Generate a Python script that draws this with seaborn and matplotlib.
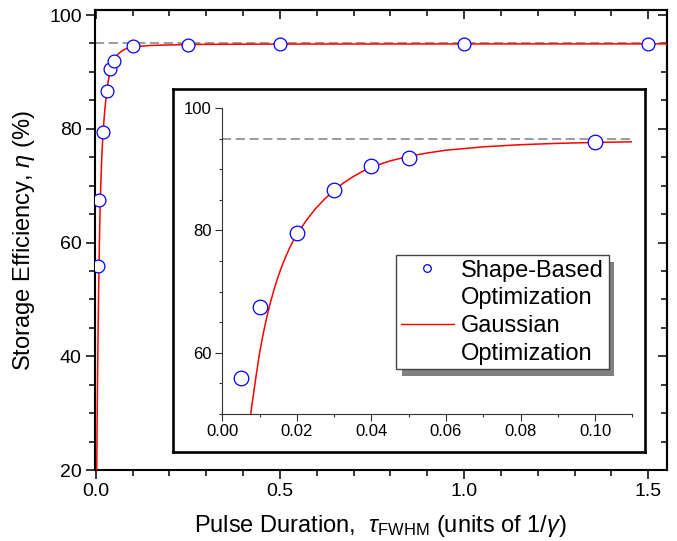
import matplotlib
matplotlib.use("Agg")
import matplotlib.pyplot as plt
import matplotlib.patheffects as pe
from matplotlib.lines import Line2D
from matplotlib.ticker import MultipleLocator, FormatStrFormatter
import seaborn as sns

# ---------------- data ----------------
shape_tau = [0.005, 0.01, 0.02, 0.03, 0.04, 0.05, 0.1, 0.25, 0.5, 1.0, 1.5]
shape_eff = [55.9, 67.4, 79.5, 86.6, 90.5, 91.9, 94.5, 94.8, 94.85, 94.85, 94.85]

gauss_tau = [0.0025, 0.003, 0.004, 0.005, 0.006, 0.007, 0.008, 0.009, 0.010,
             0.011, 0.012, 0.013, 0.014, 0.015, 0.016, 0.017, 0.018, 0.019,
             0.020, 0.0225, 0.025, 0.0275, 0.030, 0.0325, 0.035, 0.0375,
             0.040, 0.045, 0.050, 0.055, 0.060, 0.070, 0.080, 0.090, 0.100,
             0.110, 0.150, 0.200, 0.300, 0.500, 1.000, 1.550]
gauss_eff = [17.0, 22.1, 30.1, 36.6, 42.1, 47.1, 51.7, 56.0, 60.0,
             63.2, 66.0, 68.45, 70.6, 72.5, 74.2, 75.7, 77.05, 78.25,
             79.35, 81.6, 83.55, 85.15, 86.55, 87.75, 88.75, 89.6,
             90.35, 91.35, 92.1, 92.65, 93.1, 93.65, 94.0, 94.22, 94.37,
             94.47, 94.65, 94.75, 94.85, 94.9, 94.92, 94.93]

ref_level = 95.0
legend_labels = ["Shape-Based", "Optimization", "Gaussian", "Optimization"]

main_xlabel = r"Pulse Duration,  $\mathit{\tau}_{\mathrm{FWHM}}$ (units of 1/$\mathit{\gamma}$)"
main_ylabel = r"Storage Efficiency, $\mathit{\eta}$ (%)"

# ---------------- style ----------------
sns.set_theme(style="ticks")
plt.rcParams.update({
    "font.family": ["Liberation Sans", "DejaVu Sans"],
    "mathtext.fontset": "custom",
    "mathtext.rm": "Liberation Sans",
    "mathtext.it": "Liberation Sans:italic",
    "mathtext.bf": "Liberation Sans:bold",
    "axes.edgecolor": "black",
    "xtick.color": "black",
    "ytick.color": "black",
    "text.color": "black",
    "axes.labelcolor": "black",
})

fig = plt.figure(figsize=(6.77, 5.41), dpi=100)

# ---------------- main axes ----------------
ax = fig.add_axes([0.1403, 0.1312, 0.8445, 0.8494])
ax.axhline(ref_level, color="#808080", lw=1.1, dashes=(6, 3), zorder=2)
sns.lineplot(x=gauss_tau, y=gauss_eff, ax=ax, color="red", lw=1.1,
             sort=True, estimator=None, zorder=3)
sns.scatterplot(x=shape_tau, y=shape_eff, ax=ax, s=85, facecolor="white",
                edgecolor="blue", linewidth=0.9, zorder=4)
ax.set_xlim(-0.002, 1.55)
ax.set_ylim(20, 100.8)
ax.xaxis.set_major_locator(MultipleLocator(0.5))
ax.xaxis.set_minor_locator(MultipleLocator(0.1))
ax.yaxis.set_major_locator(MultipleLocator(20))
ax.yaxis.set_minor_locator(MultipleLocator(5))
ax.xaxis.set_major_formatter(FormatStrFormatter("%.1f"))
ax.yaxis.set_major_formatter(FormatStrFormatter("%d"))
ax.tick_params(which="major", direction="out", length=6.5, width=1.1,
               labelsize=14, pad=3)
ax.tick_params(which="minor", direction="out", length=4, width=1.1)
for s in ax.spines.values():
    s.set_linewidth(1.5)
ax.set_xlabel(main_xlabel, fontsize=17)
ax.set_ylabel(main_ylabel, fontsize=17)
ax.xaxis.set_label_coords(0.5, -0.094)
ax.yaxis.set_label_coords(-0.101, 0.5)

secx = ax.secondary_xaxis("top")
secx.xaxis.set_major_locator(MultipleLocator(0.5))
secx.xaxis.set_minor_locator(MultipleLocator(0.1))
secx.tick_params(which="major", direction="in", length=6.5, width=1.1, labeltop=False)
secx.tick_params(which="minor", direction="in", length=4, width=1.1)
secx.spines["top"].set_linewidth(1.5)
secy = ax.secondary_yaxis("right")
secy.yaxis.set_major_locator(MultipleLocator(20))
secy.yaxis.set_minor_locator(MultipleLocator(5))
secy.tick_params(which="major", direction="in", length=6.5, width=1.1, labelright=False)
secy.tick_params(which="minor", direction="in", length=4, width=1.1)
secy.spines["right"].set_linewidth(1.5)

# ---------------- inset frame ----------------
fax = fig.add_axes([0.256, 0.164, 0.6967, 0.671])
fax.set_xticks([])
fax.set_yticks([])
fax.set_facecolor("white")
for s in fax.spines.values():
    s.set_linewidth(1.9)
    s.set_color("black")

# ---------------- inset axes ----------------
iax = fig.add_axes([0.3284, 0.2348, 0.6056, 0.5656])
iax.set_facecolor("white")
iax.axhline(ref_level, color="#808080", lw=1.1, dashes=(6, 3), zorder=2)
sns.lineplot(x=gauss_tau, y=gauss_eff, ax=iax, color="red", lw=1.1,
             sort=True, estimator=None, zorder=3)
sns.scatterplot(x=shape_tau, y=shape_eff, ax=iax, s=110, facecolor="white",
                edgecolor="blue", linewidth=0.9, zorder=4)
iax.set_xlim(0, 0.11)
iax.set_ylim(50, 100)
iax.xaxis.set_major_locator(MultipleLocator(0.02))
iax.xaxis.set_minor_locator(MultipleLocator(0.01))
iax.yaxis.set_major_locator(MultipleLocator(20))
iax.yaxis.set_minor_locator(MultipleLocator(5))
iax.xaxis.set_major_formatter(FormatStrFormatter("%.2f"))
iax.yaxis.set_major_formatter(FormatStrFormatter("%d"))
iax.tick_params(which="major", direction="out", length=5, width=0.8,
                labelsize=12, pad=2.5, color="#333333")
iax.tick_params(which="minor", direction="out", length=2.5, width=0.8,
                color="#333333")
iax.spines["top"].set_visible(False)
iax.spines["right"].set_visible(False)
for k in ("left", "bottom"):
    iax.spines[k].set_linewidth(0.8)
    iax.spines[k].set_color("#333333")
iax.set_xlabel("")
iax.set_ylabel("")

# ---------------- legend ----------------
handles = [
    Line2D([], [], ls="none", marker="o", mfc="white", mec="blue", ms=5.5, mew=0.9),
    Line2D([], [], ls="none"),
    Line2D([], [], color="red", lw=1.0),
    Line2D([], [], ls="none"),
]
leg = iax.legend(handles, legend_labels, loc="upper left",
                 bbox_to_anchor=(396 / 677, 1 - 255 / 541),
                 bbox_transform=fig.transFigure, fontsize=17,
                 labelspacing=0.24, handlelength=2.25, handletextpad=0.3,
                 borderpad=0.2, borderaxespad=0, fancybox=False,
                 framealpha=1, edgecolor="#444444")
leg.get_frame().set_linewidth(1.0)
leg.get_frame().set_path_effects([
    pe.SimplePatchShadow(offset=(4, -5), shadow_rgbFace="#808080", alpha=1),
    pe.Normal(),
])

fig.savefig("out.png", dpi=100)
